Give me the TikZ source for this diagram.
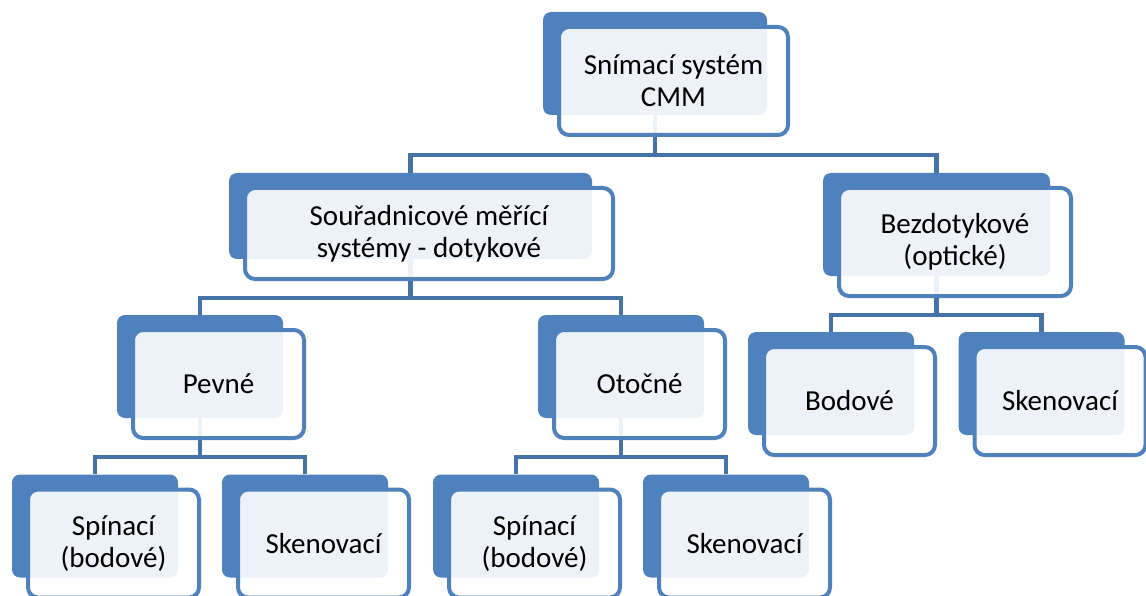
\documentclass[tikz,border=0pt]{standalone}
\usepackage{fontspec}
\setmainfont{Carlito}
\usetikzlibrary{calc,backgrounds}
\definecolor{modra}{RGB}{79,129,189}
\definecolor{spojmodra}{RGB}{69,114,167}
\tikzstyle{zadni}=[rectangle, fill=modra, rounded corners=8pt, inner sep=0pt]
\tikzstyle{predni}=[rectangle, draw=modra, line width=4pt, fill=white,
    fill opacity=0.9, text opacity=1, rounded corners=10pt, inner sep=0pt,
    align=center, font=\fontsize{29}{32}\selectfont]
\tikzstyle{spoj}=[draw=spojmodra, line width=4.5pt]
% karta: name, x, y (back box centre), width, height, text
\newcommand{\karta}[6]{%
  \node[zadni, minimum width=#4pt, minimum height=#5pt] (#1) at (#2,#3) {};
  \node[predni, minimum width=#4pt+5pt, minimum height=#5pt+5pt] (#1-p) at (#2+18.5,#3+17.5) {#6};
}
\newcommand{\spoj}[2]{%
  \draw[spoj] let \p1=(#1-p.south), \p2=(#2.north) in
    (#1.south) |- (\x2,{(\y1+\y2)/2}) -- (#2.north);
}

\begin{document}
\begin{tikzpicture}[x=1pt, y=-1pt]
\useasboundingbox (0,0) rectangle (1146,596);
\karta{cmm}{655}{63.5}{224}{103}{Snímací systém\\CMM}
\karta{dotyk}{410.5}{216}{363}{86}{Souřadnicové měřící\\systémy - dotykové}
\karta{bezdot}{936.5}{224.5}{227}{103}{Bezdotykové\\(optické)}
\karta{pevne}{200}{366.5}{166}{103}{Pevné}
\karta{otocne}{621}{366.5}{166}{103}{Otočné}
\karta{spin1}{95}{526}{166}{103}{Spínací\\(bodové)}
\karta{sken1}{305}{526}{166}{103}{Skenovací}
\karta{spin2}{516}{526}{166}{103}{Spínací\\(bodové)}
\karta{sken2}{726}{526}{166}{103}{Skenovací}
\karta{bodove}{831}{383.5}{166}{103}{Bodové}
\karta{sken3}{1041.5}{383.5}{166}{103}{Skenovací}
\begin{scope}[on background layer]
\spoj{cmm}{dotyk} \spoj{cmm}{bezdot}
\spoj{dotyk}{pevne} \spoj{dotyk}{otocne}
\spoj{pevne}{spin1} \spoj{pevne}{sken1}
\spoj{otocne}{spin2} \spoj{otocne}{sken2}
\spoj{bezdot}{bodove} \spoj{bezdot}{sken3}
\end{scope}
\end{tikzpicture}
\end{document}
